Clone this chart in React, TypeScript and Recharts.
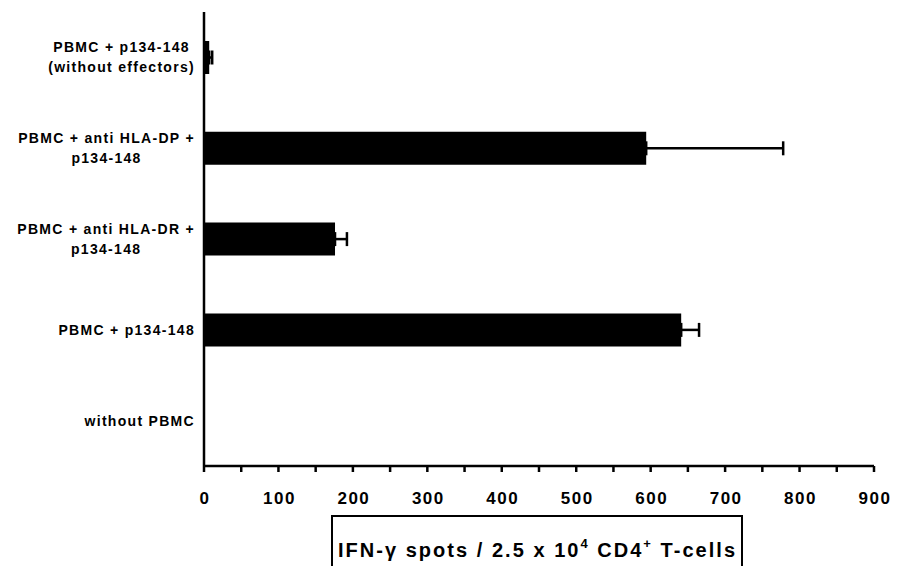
import React from "react";
import { BarChart, Bar, XAxis, YAxis, ErrorBar } from "recharts";

const categories = [
  "PBMC + p134-148\n(without effectors)",
  "PBMC + anti HLA-DP +\np134-148",
  "PBMC + anti HLA-DR +\np134-148",
  "PBMC + p134-148",
  "without PBMC",
];
const spots = [7, 594, 176, 641, 0];
const errorHigh = [4, 184, 16, 24, 0];
const xTicks = [0, 50, 100, 150, 200, 250, 300, 350, 400, 450, 500, 550, 600, 650, 700, 750, 800, 850, 900];

const data = categories.map((c, i) => ({
  name: c,
  value: spots[i],
  err: [0, errorHigh[i]],
}));

const FONT = "Arial, 'Liberation Sans', sans-serif";

let ctx: CanvasRenderingContext2D | null = null;
function measure(s: string, font: string, spacing: number) {
  if (!ctx) ctx = document.createElement("canvas").getContext("2d");
  if (!ctx) return s.length * 8;
  ctx.font = font;
  return ctx.measureText(s).width + spacing * s.length;
}

const YTick = (props: any) => {
  const { x, y, payload } = props;
  const lines: string[] = String(payload.value).split("\n");
  const font = "bold 14px Arial, 'Liberation Sans', sans-serif";
  const spacing = 1.3;
  const w = Math.max(...lines.map((l) => measure(l, font, spacing)));
  const right = x - 1;
  const cx = right - w / 2;
  const lh = 20;
  const startY = y - ((lines.length - 1) * lh) / 2;
  return (
    <g>
      {lines.map((l, i) => (
        <text
          key={i}
          x={cx}
          y={startY + i * lh}
          textAnchor="middle"
          dominantBaseline="central"
          fontFamily={FONT}
          fontWeight="bold"
          fontSize={14}
          letterSpacing={spacing}
          fill="#000"
        >
          {l}
        </text>
      ))}
    </g>
  );
};

const XTick = (props: any) => {
  const { x, y, payload } = props;
  if (payload.value % 100 !== 0) return <g />;
  return (
    <text
      x={x + 1}
      y={y + 30}
      textAnchor="middle"
      fontFamily={FONT}
      fontWeight="bold"
      fontSize={17}
      letterSpacing={1.5}
      fill="#000"
    >
      {payload.value}
    </text>
  );
};

const AxisTitle = (props: any) => {
  const vb = props.viewBox || { x: 204, y: 466, width: 670 };
  const left = vb.x + 128;
  const top = vb.y + 50;
  return (
    <g>
      <rect x={left} y={top} width={410} height={80} fill="none" stroke="#000" strokeWidth={2} />
      <text
        x={left + 6}
        y={top + 41}
        textAnchor="start"
        fontFamily={FONT}
        fontSize={20}
        fontWeight="bold"
        textLength={397}
        lengthAdjust="spacing"
        fill="#000"
      >
        <tspan>IFN-</tspan>
        <tspan fontWeight="bold">γ</tspan>
        <tspan> spots / 2.5 x 10</tspan>
        <tspan fontSize={13} dy={-9}>4</tspan>
        <tspan dy={9}> CD4</tspan>
        <tspan fontSize={13} dy={-9}>+</tspan>
        <tspan dy={9}> T-cells</tspan>
      </text>
    </g>
  );
};

export default function App() {
  return (
    <div style={{ position: "absolute", left: 0, top: 0, width: 904, height: 566, background: "#fff" }}>
      <BarChart
        width={904}
        height={566}
        data={data}
        layout="vertical"
        margin={{ top: 12, right: 30, bottom: 0, left: 0 }}
        barCategoryGap={0}
      >
        <XAxis
          type="number"
          domain={[0, 900]}
          ticks={xTicks}
          interval={0}
          axisLine={{ stroke: "#000", strokeWidth: 2.5 }}
          tickLine={{ stroke: "#000", strokeWidth: 2.5 }}
          tickSize={6}
          tick={<XTick />}
          height={100}
          label={<AxisTitle />}
        />
        <YAxis
          type="category"
          dataKey="name"
          width={204}
          axisLine={{ stroke: "#000", strokeWidth: 2.5 }}
          tickLine={false}
          tick={<YTick />}
          interval={0}
        />
        <Bar dataKey="value" fill="#000" barSize={33} isAnimationActive={false}>
          <ErrorBar dataKey="err" direction="x" width={7} stroke="#000" strokeWidth={2.5} />
        </Bar>
      </BarChart>
    </div>
  );
}
